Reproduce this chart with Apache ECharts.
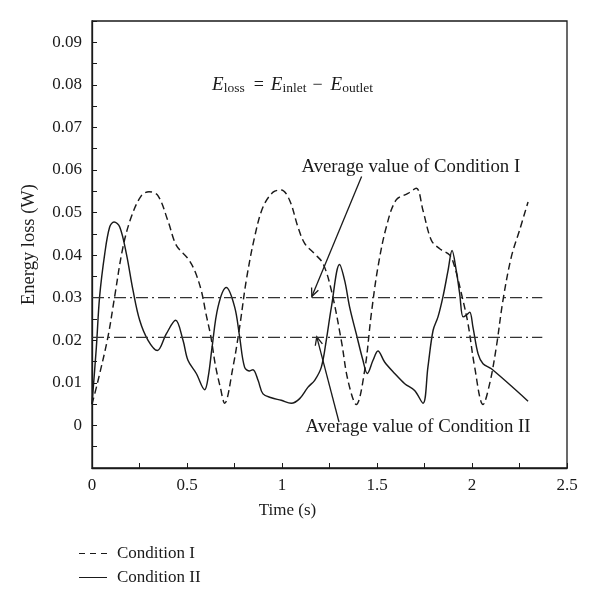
<!DOCTYPE html>
<html>
<head>
<meta charset="utf-8">
<script src="https://cdn.jsdelivr.net/npm/echarts@6/dist/echarts.min.js"></script>
<style>
html,body{margin:0;padding:0;background:#fff;}
#main{width:600px;height:609px;}
</style>
</head>
<body>
<div id="main"></div>
<script>
// ---- Data ----
var condITime = [0.0, 0.03, 0.084, 0.119, 0.163, 0.207, 0.26, 0.30, 0.347, 0.40, 0.444, 0.505, 0.54, 0.575, 0.60, 0.625, 0.65, 0.675, 0.698, 0.742, 0.777, 0.812, 0.856, 0.90, 0.953, 0.996, 1.04, 1.084, 1.12, 1.172, 1.216, 1.26, 1.312, 1.347, 1.391, 1.435, 1.47, 1.505, 1.549, 1.60, 1.663, 1.707, 1.742, 1.786, 1.83, 1.883, 1.909, 1.944, 1.979, 2.014, 2.058, 2.093, 2.128, 2.163, 2.207, 2.25, 2.295];
var condIValue = [0.005, 0.0102, 0.0208, 0.0302, 0.0419, 0.049, 0.054, 0.0549, 0.054, 0.048, 0.0423, 0.0392, 0.0364, 0.0317, 0.0262, 0.021, 0.014, 0.009, 0.0052, 0.0137, 0.0231, 0.0341, 0.0443, 0.0513, 0.0548, 0.0553, 0.0529, 0.0466, 0.0427, 0.0403, 0.038, 0.0317, 0.02, 0.0106, 0.0049, 0.0129, 0.0262, 0.0372, 0.0466, 0.0529, 0.0545, 0.0557, 0.0505, 0.0435, 0.0415, 0.040, 0.0372, 0.031, 0.0239, 0.0137, 0.0049, 0.0098, 0.0184, 0.0294, 0.0396, 0.0458, 0.0525];

var condIITime = [0.0, 0.023, 0.04, 0.067, 0.093, 0.116, 0.146, 0.181, 0.216, 0.251, 0.295, 0.344, 0.391, 0.44, 0.479, 0.505, 0.549, 0.593, 0.612, 0.632, 0.663, 0.707, 0.751, 0.777, 0.803, 0.83, 0.847, 0.874, 0.90, 0.944, 0.996, 1.049, 1.093, 1.137, 1.172, 1.207, 1.233, 1.26, 1.303, 1.33, 1.356, 1.391, 1.426, 1.449, 1.479, 1.505, 1.54, 1.593, 1.646, 1.698, 1.742, 1.768, 1.795, 1.821, 1.847, 1.874, 1.895, 1.917, 1.935, 1.953, 1.97, 1.988, 2.005, 2.032, 2.058, 2.102, 2.295];
var condIIValue = [0.005, 0.0184, 0.0302, 0.0403, 0.0466, 0.0478, 0.0466, 0.0403, 0.0317, 0.0247, 0.020, 0.0176, 0.0215, 0.0247, 0.020, 0.0153, 0.0122, 0.0084, 0.0115, 0.0184, 0.0278, 0.0324, 0.0278, 0.0208, 0.0137, 0.0128, 0.0131, 0.0106, 0.0074, 0.0065, 0.0059, 0.0052, 0.0063, 0.009, 0.0106, 0.0137, 0.020, 0.0278, 0.0378, 0.034, 0.0278, 0.0215, 0.0153, 0.0122, 0.0153, 0.0175, 0.0149, 0.0122, 0.0098, 0.0082, 0.0052, 0.0137, 0.0223, 0.0255, 0.0302, 0.0364, 0.0411, 0.0364, 0.031, 0.0255, 0.0259, 0.0266, 0.0231, 0.0168, 0.0145, 0.0133, 0.0057];

var averageI = 0.030;
var averageII = 0.0207;
var averageSpan = [0, 2.37];

var xTicks = ['0', '0.5', '1', '1.5', '2', '2.5'];
var yTicks = ['0', '0.01', '0.02', '0.03', '0.04', '0.05', '0.06', '0.07', '0.08', '0.09'];

// annotation anchors in data coordinates
var noteI = {text: 'Average value of Condition I', at: [1.678, 0.0607], from: [1.419, 0.0585], to: [1.157, 0.0303]};
var noteII = {text: 'Average value of Condition II', at: [1.716, -0.0004], from: [1.30, 0.0008], to: [1.183, 0.0208]};
var formulaAt = [0.632, 0.080];

function pairs(t, v) { return t.map(function (x, i) { return [x, v[i]]; }); }

var FONT = '"Liberation Serif", "DejaVu Serif", serif';
var INK = '#1a1a1a';

var chart = echarts.init(document.getElementById('main'), null, {renderer: 'canvas'});

var option = {
  animation: false,
  backgroundColor: '#fff',
  grid: {left: 92, top: 21, right: 33, bottom: 141, show: true, borderColor: INK, borderWidth: 1.3, backgroundColor: 'transparent'},
  legend: {
    data: [
      {name: 'Condition I', icon: 'path://M0,0h6v1h-6z M11,0h6v1h-6z M22,0h6v1h-6z'},
      {name: 'Condition II', icon: 'path://M0,0h28v1h-28z'}
    ],
    orient: 'vertical',
    left: 74, top: 540,
    itemWidth: 28, itemHeight: 1.4, itemGap: 7,
    itemStyle: {color: INK, borderWidth: 0},
    textStyle: {fontFamily: FONT, fontSize: 17, color: INK, lineHeight: 14, padding: [0, 0, 0, 5]},
    selectedMode: false
  },
  xAxis: {
    type: 'value', min: 0, max: 2.5, interval: 0.25,
    name: 'Time (s)', nameLocation: 'middle', nameGap: 34,
    nameTextStyle: {fontFamily: FONT, fontSize: 17, color: INK, padding: [0, 84, 0, 0]},
    axisLine: {show: true, onZero: false, lineStyle: {color: INK, width: 1.3}},
    axisTick: {show: true, inside: true, length: 5, lineStyle: {color: INK}},
    splitLine: {show: false},
    axisLabel: {
      fontFamily: FONT, fontSize: 17, color: INK, margin: 9,
      formatter: function (v) {
        var k = Math.round(v * 100);
        if (k % 50 !== 0) return '';
        return xTicks[k / 50];
      }
    }
  },
  yAxis: {
    type: 'value', min: -0.01, max: 0.095, interval: 0.005,
    name: 'Energy loss (W)', nameLocation: 'middle', nameGap: 53, nameRotate: 90,
    nameTextStyle: {fontFamily: FONT, fontSize: 18.5, color: INK},
    axisLine: {show: true, onZero: false, lineStyle: {color: INK, width: 1.3}},
    axisTick: {show: true, inside: true, length: 5, lineStyle: {color: INK}},
    splitLine: {show: false},
    axisLabel: {
      fontFamily: FONT, fontSize: 17, color: INK, margin: 10,
      formatter: function (v) {
        var k = Math.round(v * 1000);
        if (k < 0 || k > 90 || k % 10 !== 0) return '';
        return yTicks[k / 10];
      }
    }
  },
  series: [
    {
      name: 'Condition I', type: 'line', data: pairs(condITime, condIValue),
      smooth: 0.35, showSymbol: false, symbol: 'none',
      lineStyle: {color: INK, width: 1.45, type: [7, 4]},
      itemStyle: {color: INK}
    },
    {
      name: 'Condition II', type: 'line', data: pairs(condIITime, condIIValue),
      smooth: 0.35, showSymbol: false, symbol: 'none',
      lineStyle: {color: INK, width: 1.45, type: 'solid'},
      itemStyle: {color: INK}
    },
    {
      name: 'avgI', type: 'line', data: [[averageSpan[0], averageI], [averageSpan[1], averageI]],
      showSymbol: false, symbol: 'none', silent: true,
      lineStyle: {color: '#333', width: 1.3, type: [12, 4, 2, 4]}
    },
    {
      name: 'avgII', type: 'line', data: [[averageSpan[0], averageII], [averageSpan[1], averageII]],
      showSymbol: false, symbol: 'none', silent: true,
      lineStyle: {color: '#333', width: 1.3, type: [12, 4, 2, 4]}
    }
  ]
};
chart.setOption(option);

function px(p) { return chart.convertToPixel({xAxisIndex: 0, yAxisIndex: 0}, p); }

function arrow(note) {
  var a = px(note.from), b = px(note.to);
  var ang = Math.atan2(a[1] - b[1], a[0] - b[0]);
  var L = 9, spread = 0.42;
  var h1 = [b[0] + L * Math.cos(ang + spread), b[1] + L * Math.sin(ang + spread)];
  var h2 = [b[0] + L * Math.cos(ang - spread), b[1] + L * Math.sin(ang - spread)];
  return [
    {type: 'line', shape: {x1: a[0], y1: a[1], x2: b[0], y2: b[1]}, style: {stroke: INK, lineWidth: 1.3}, silent: true},
    {type: 'polyline', shape: {points: [h1, b, h2]}, style: {stroke: INK, lineWidth: 1.3, fill: null}, silent: true}
  ];
}

function label(note) {
  var p = px(note.at);
  return {type: 'text', x: p[0], y: p[1], silent: true,
    style: {text: note.text, fontFamily: FONT, fontSize: 18.8, fill: INK, align: 'center', verticalAlign: 'middle'}};
}

var fp = px(formulaAt);
var graphics = [].concat(arrow(noteI), arrow(noteII), [label(noteI), label(noteII), {
  type: 'text', x: fp[0], y: fp[1], silent: true,
  style: {
    text: '{e|E}{s|loss}{eq|=}{e|E}{s|inlet}{mi|−}{e|E}{s|outlet}',
    align: 'left', verticalAlign: 'middle',
    rich: {
      e: {fontFamily: FONT, fontStyle: 'italic', fontSize: 19, fill: INK, lineHeight: 22, verticalAlign: 'middle'},
      eq: {fontFamily: FONT, fontSize: 18, fill: INK, lineHeight: 22, verticalAlign: 'middle', padding: [0, 7, 0, 9]},
      mi: {fontFamily: FONT, fontSize: 18, fill: INK, lineHeight: 22, verticalAlign: 'middle', padding: [0, 8, 0, 6]},
      s: {fontFamily: FONT, fontSize: 13.5, fill: INK, lineHeight: 12, verticalAlign: 'bottom'}
    }
  }
}]);

chart.setOption({graphic: graphics});
</script>
</body>
</html>
